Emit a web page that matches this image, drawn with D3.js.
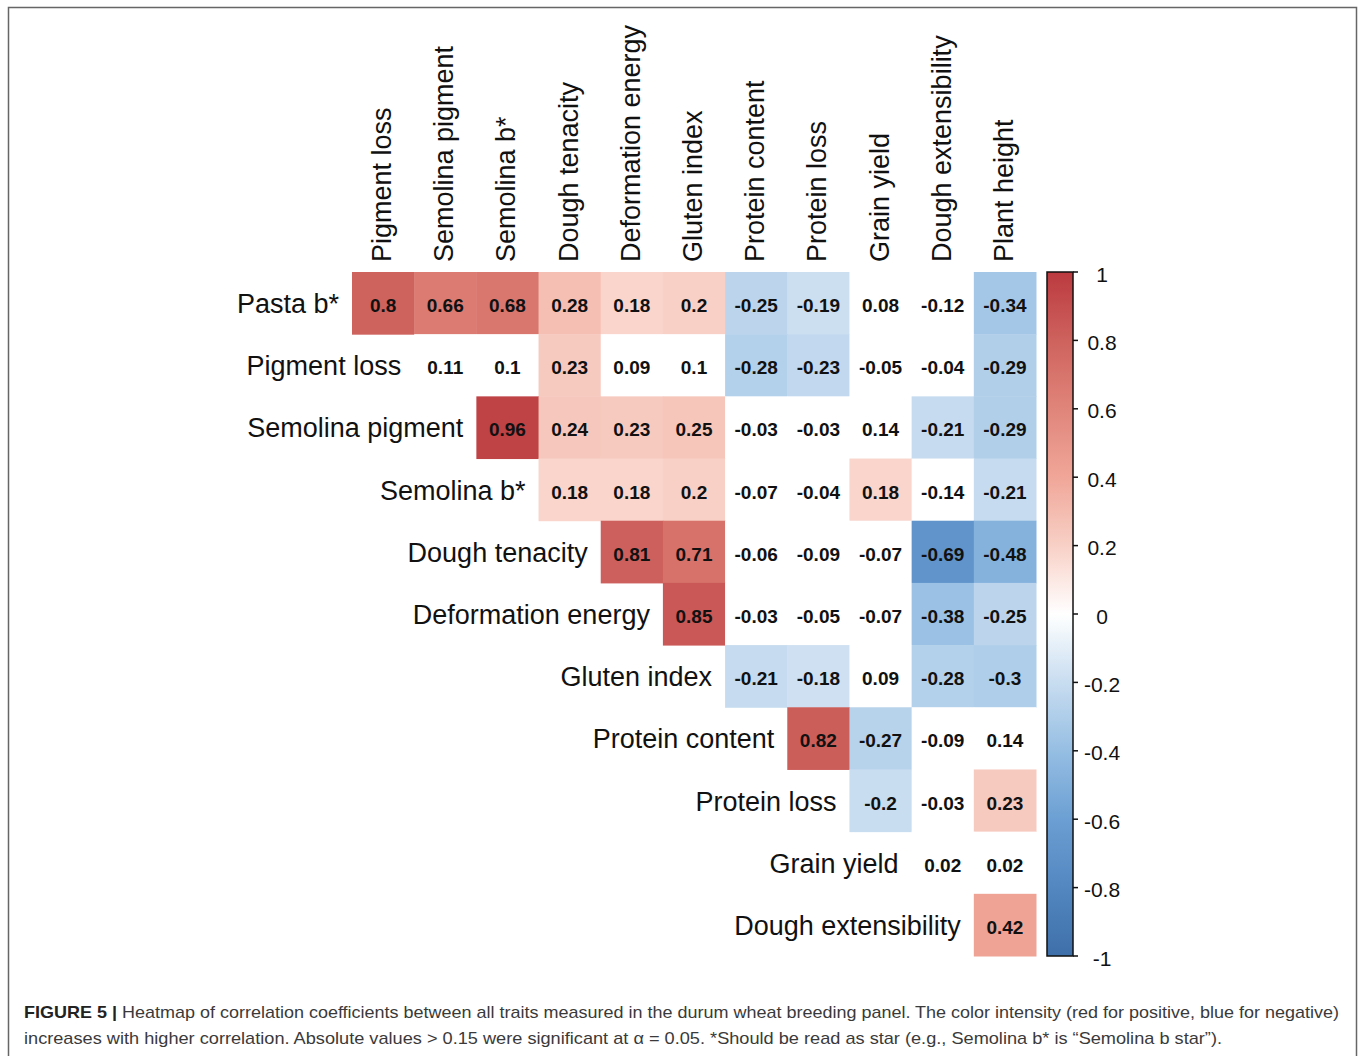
<!DOCTYPE html>
<html lang="en">
<head>
    <meta charset="UTF-8">
    <title>Correlation Heatmap</title>
    <style>
        body { margin: 0; background: #fff; }
        svg text { font-family: "Liberation Sans", Arial, sans-serif; }
        .cell-label { font-size: 19px; font-weight: bold; fill: #111; }
        .row-label, .col-label { font-size: 27px; fill: #111; }
        .legend-label { font-size: 21px; fill: #111; }
        .caption { font-size: 17px; fill: #3a3a3a; }
    </style>
</head>
<body>

<svg width="1365" height="1056"></svg>

<script src="https://d3js.org/d3.v7.min.js"></script>
<script>

    // Row traits (top to bottom) and column traits (left to right)
    const rowNames = ['Pasta b*', 'Pigment loss', 'Semolina pigment', 'Semolina b*',
        'Dough tenacity', 'Deformation energy', 'Gluten index', 'Protein content',
        'Protein loss', 'Grain yield', 'Dough extensibility'];

    const colNames = ['Pigment loss', 'Semolina pigment', 'Semolina b*', 'Dough tenacity',
        'Deformation energy', 'Gluten index', 'Protein content', 'Protein loss',
        'Grain yield', 'Dough extensibility', 'Plant height'];

    // Upper triangle: row i holds the values for columns i .. end
    const corrValues = [
        [0.8, 0.66, 0.68, 0.28, 0.18, 0.2, -0.25, -0.19, 0.08, -0.12, -0.34],
        [0.11, 0.1, 0.23, 0.09, 0.1, -0.28, -0.23, -0.05, -0.04, -0.29],
        [0.96, 0.24, 0.23, 0.25, -0.03, -0.03, 0.14, -0.21, -0.29],
        [0.18, 0.18, 0.2, -0.07, -0.04, 0.18, -0.14, -0.21],
        [0.81, 0.71, -0.06, -0.09, -0.07, -0.69, -0.48],
        [0.85, -0.03, -0.05, -0.07, -0.38, -0.25],
        [-0.21, -0.18, 0.09, -0.28, -0.3],
        [0.82, -0.27, -0.09, 0.14],
        [-0.2, -0.03, 0.23],
        [0.02, 0.02],
        [0.42]
    ];

    const legendTicks = [1, 0.8, 0.6, 0.4, 0.2, 0, -0.2, -0.4, -0.6, -0.8, -1];

    // values at or below this magnitude are not significant and left white
    const sigLevel = 0.15;

    const svg = d3.select('svg');

    const x = d3.scaleBand().domain(colNames).range([352, 1036]);
    const y = d3.scaleBand().domain(rowNames).range([272, 956]);

    const colorScale = d3.scaleLinear()
        .domain([-1, -0.8, -0.6, -0.4, -0.2, 0, 0.2, 0.4, 0.6, 0.8, 1])
        .range(['#3f6fa8', '#5287c0', '#6c9fd3', '#96bee3', '#c8ddf0', '#ffffff',
                '#f8d0c6', '#f0a698', '#e0857a', '#ce625d', '#bb3a3f'])
        .clamp(true);

    // flatten the triangle into cells
    const cells = [];
    corrValues.forEach(function (row, i) {
        row.forEach(function (v, k) {
            cells.push({ row: rowNames[i], col: colNames[i + k], value: v });
        });
    });

    // border frame round the figure
    svg.append('rect')
        .attr('x', 8.5).attr('y', 7.5)
        .attr('width', 1348).attr('height', 1100)
        .attr('fill', 'none')
        .attr('stroke', '#666')
        .attr('stroke-width', 1.5);

    const cellG = svg.append('g');

    cellG.selectAll('rect')
        .data(cells)
        .enter()
        .append('rect')
        .attr('x', function (d) { return x(d.col); })
        .attr('y', function (d) { return y(d.row); })
        .attr('width', x.bandwidth() + 0.5)
        .attr('height', y.bandwidth() + 0.5)
        .attr('fill', function (d) {
            return Math.abs(d.value) > sigLevel ? colorScale(d.value) : '#ffffff';
        });

    cellG.selectAll('text')
        .data(cells)
        .enter()
        .append('text')
        .attr('class', 'cell-label')
        .attr('x', function (d) { return x(d.col) + x.bandwidth() / 2; })
        .attr('y', function (d) { return y(d.row) + y.bandwidth() / 2 + 2.5; })
        .attr('text-anchor', 'middle')
        .attr('dominant-baseline', 'central')
        .text(function (d) { return d.value; });

    // row labels sit just left of the diagonal
    svg.append('g')
        .selectAll('text')
        .data(rowNames)
        .enter()
        .append('text')
        .attr('class', 'row-label')
        .attr('x', function (d, i) { return x(colNames[i]) - 13; })
        .attr('y', function (d) { return y(d) + y.bandwidth() / 2 + 1; })
        .attr('text-anchor', 'end')
        .attr('dominant-baseline', 'central')
        .text(function (d) { return d; });

    // column labels rotated on top
    svg.append('g')
        .selectAll('text')
        .data(colNames)
        .enter()
        .append('text')
        .attr('class', 'col-label')
        .attr('transform', function (d) {
            return 'translate(' + (x(d) + x.bandwidth() / 2 + 8) + ' 262) rotate(-90)';
        })
        .attr('text-anchor', 'start')
        .text(function (d) { return d; });

    // colour legend
    const legendY = d3.scaleLinear().domain([1, -1]).range([272, 956]);

    const grad = svg.append('defs')
        .append('linearGradient')
        .attr('id', 'legendGrad')
        .attr('x1', 0).attr('y1', 0)
        .attr('x2', 0).attr('y2', 1);

    grad.selectAll('stop')
        .data(d3.range(1, -1.001, -0.05))
        .enter()
        .append('stop')
        .attr('offset', function (d) { return (1 - d) / 2; })
        .attr('stop-color', function (d) { return colorScale(d); });

    const legendG = svg.append('g');

    legendG.append('rect')
        .attr('x', 1047).attr('y', 272)
        .attr('width', 26).attr('height', 684)
        .attr('fill', 'url(#legendGrad)')
        .attr('stroke', '#111')
        .attr('stroke-width', 1.5);

    legendG.selectAll('line')
        .data(legendTicks)
        .enter()
        .append('line')
        .attr('x1', 1073).attr('x2', 1078)
        .attr('y1', function (d) { return legendY(d); })
        .attr('y2', function (d) { return legendY(d); })
        .attr('stroke', '#111')
        .attr('stroke-width', 1.5);

    legendG.selectAll('text')
        .data(legendTicks)
        .enter()
        .append('text')
        .attr('class', 'legend-label')
        .attr('x', 1102)
        .attr('y', function (d) { return legendY(d) + 2; })
        .attr('text-anchor', 'middle')
        .attr('dominant-baseline', 'central')
        .text(function (d) { return d; });

    // figure caption
    const line1 = svg.append('text')
        .attr('class', 'caption')
        .attr('x', 24).attr('y', 1018)
        .attr('textLength', 1315)
        .attr('lengthAdjust', 'spacingAndGlyphs');
    line1.append('tspan').attr('font-weight', 'bold').attr('fill', '#222').text('FIGURE 5 | ');
    line1.append('tspan').text('Heatmap of correlation coefficients between all traits measured in the durum wheat breeding panel. The color intensity (red for positive, blue for negative)');

    svg.append('text')
        .attr('class', 'caption')
        .attr('x', 24).attr('y', 1044)
        .attr('textLength', 1198)
        .attr('lengthAdjust', 'spacingAndGlyphs')
        .text('increases with higher correlation. Absolute values > 0.15 were significant at \u03B1 = 0.05. *Should be read as star (e.g., Semolina b* is \u201CSemolina b star\u201D).');

</script>

</body>
</html>
